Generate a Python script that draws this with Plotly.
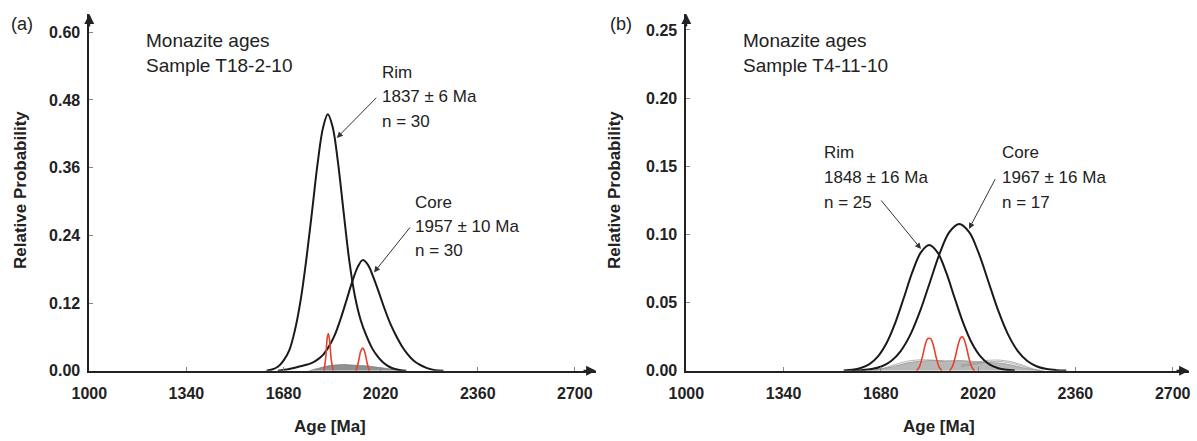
import plotly.graph_objects as go

W, H = 1197, 441

# ---------------- data ----------------
x_ticks = [1000, 1340, 1680, 2020, 2360, 2700]
ya_ticks = [0.00, 0.12, 0.24, 0.36, 0.48, 0.60]
yb_ticks = [0.00, 0.05, 0.10, 0.15, 0.20, 0.25]

# panel (a) T18-2-10
a_rim_x = [1620, 1640, 1660, 1680, 1700, 1720, 1740, 1760, 1780, 1800, 1818, 1835, 1852, 1870, 1890, 1910, 1930, 1950, 1970, 1990, 2010, 2030, 2050, 2070, 2090, 2110]
a_rim_y = [0.000, 0.002, 0.007, 0.018, 0.036, 0.072, 0.125, 0.198, 0.283, 0.370, 0.430, 0.4545, 0.432, 0.372, 0.283, 0.196, 0.132, 0.090, 0.062, 0.040, 0.025, 0.014, 0.007, 0.003, 0.001, 0.000]
a_core_x = [1660, 1700, 1740, 1780, 1800, 1820, 1840, 1860, 1880, 1900, 1920, 1940, 1957, 1975, 1995, 2015, 2035, 2055, 2075, 2095, 2115, 2135, 2155, 2180, 2210, 2240]
a_core_y = [0.000, 0.003, 0.008, 0.014, 0.020, 0.029, 0.044, 0.064, 0.092, 0.124, 0.157, 0.184, 0.196, 0.188, 0.165, 0.137, 0.108, 0.082, 0.061, 0.043, 0.029, 0.018, 0.011, 0.005, 0.001, 0.000]
a_red1_x = [1822, 1828, 1833, 1837, 1841, 1847, 1854]
a_red1_y = [0.000, 0.025, 0.058, 0.066, 0.055, 0.020, 0.000]
a_red2_x = [1934, 1942, 1950, 1957, 1964, 1972, 1980]
a_red2_y = [0.000, 0.015, 0.034, 0.040, 0.034, 0.015, 0.000]
a_gray_x = [1770, 1800, 1830, 1860, 1890, 1920, 1950, 1980, 2010, 2040, 2070, 2100]
a_gray_y = [0.000, 0.004, 0.008, 0.010, 0.011, 0.010, 0.009, 0.008, 0.006, 0.004, 0.002, 0.000]

# panel (b) T4-11-10
b_rim_x = [1550, 1580, 1610, 1640, 1670, 1700, 1730, 1760, 1790, 1820, 1849, 1878, 1908, 1938, 1968, 1998, 2028, 2058, 2088, 2118, 2148]
b_rim_y = [0.0002, 0.0007, 0.0020, 0.0048, 0.0105, 0.0203, 0.0349, 0.0533, 0.0723, 0.0868, 0.0922, 0.0868, 0.0723, 0.0533, 0.0349, 0.0203, 0.0105, 0.0048, 0.0020, 0.0007, 0.0002]
b_core_x = [1580, 1614, 1648, 1682, 1716, 1750, 1784, 1818, 1852, 1886, 1920, 1954, 1988, 2022, 2056, 2090, 2124, 2158, 2192, 2226, 2260, 2294, 2328]
b_core_y = [0.0001, 0.0004, 0.0012, 0.0031, 0.0071, 0.0146, 0.0268, 0.0442, 0.0653, 0.0862, 0.1018, 0.1076, 0.1018, 0.0862, 0.0653, 0.0442, 0.0268, 0.0146, 0.0071, 0.0031, 0.0012, 0.0004, 0.0001]
b_red1_x = [1805, 1815, 1825, 1835, 1842, 1849, 1856, 1863, 1873, 1883, 1893]
b_red1_y = [0.000, 0.003, 0.010, 0.019, 0.023, 0.0238, 0.023, 0.019, 0.010, 0.003, 0.000]
b_red2_x = [1920, 1930, 1940, 1950, 1957, 1963, 1970, 1977, 1987, 1997, 2007]
b_red2_y = [0.000, 0.003, 0.010, 0.019, 0.0235, 0.025, 0.0235, 0.019, 0.010, 0.003, 0.000]
b_gray_x = [1640, 1700, 1740, 1780, 1820, 1860, 1900, 1940, 1980, 2020, 2060, 2100, 2140, 2180, 2220, 2250]
b_gray_y = [0.000, 0.002, 0.004, 0.006, 0.007, 0.0075, 0.0072, 0.0074, 0.0072, 0.0065, 0.006, 0.0055, 0.004, 0.002, 0.0005, 0.000]
b_gl1_x = [1960, 2010, 2050, 2090, 2130, 2170, 2210, 2240]
b_gl1_y = [0.004, 0.0058, 0.0075, 0.0078, 0.0068, 0.0045, 0.0015, 0.000]
b_gl2_x = [1960, 2010, 2050, 2090, 2130, 2170, 2210, 2240]
b_gl2_y = [0.003, 0.0048, 0.0064, 0.0068, 0.0058, 0.0036, 0.0010, 0.000]
b_gl3_x = [1660, 1700, 1740, 1780, 1820, 1860, 1900]
b_gl3_y = [0.000, 0.0025, 0.0052, 0.0072, 0.0080, 0.0078, 0.0070]

# ---------------- helpers ----------------
def px(x):
    return x / W

def py(y):
    return 1 - y / H

BLACK = "#1a1a1a"
RED = "#e8412c"
FONT = "Liberation Sans, Arial, sans-serif"

fig = go.Figure()

def add_line(x, y, xa, ya, color, width, shape="spline", fill=None, fillcolor=None, smoothing=0.8):
    fig.add_trace(go.Scatter(x=x, y=y, xaxis=xa, yaxis=ya, mode="lines",
                             line=dict(color=color, width=width, shape=shape, smoothing=smoothing),
                             fill=fill, fillcolor=fillcolor, hoverinfo="skip", showlegend=False))

# panel a
add_line(a_gray_x, a_gray_y, "x", "y", "rgba(120,120,120,0.9)", 0.8, fill="tozeroy", fillcolor="rgba(125,125,125,0.85)")
add_line(a_rim_x, a_rim_y, "x", "y", BLACK, 2, smoothing=1)
add_line(a_core_x, a_core_y, "x", "y", BLACK, 2, smoothing=1)
add_line(a_red1_x, a_red1_y, "x", "y", RED, 1.6)
add_line(a_red2_x, a_red2_y, "x", "y", RED, 1.6)
# panel b
add_line(b_gray_x, b_gray_y, "x2", "y2", "rgba(140,140,140,0.9)", 0.8, fill="tozeroy", fillcolor="rgba(160,160,160,0.75)")
add_line(b_gl1_x, b_gl1_y, "x2", "y2", "rgba(150,150,150,0.9)", 0.8)
add_line(b_gl2_x, b_gl2_y, "x2", "y2", "rgba(150,150,150,0.9)", 0.8)
add_line(b_gl3_x, b_gl3_y, "x2", "y2", "rgba(150,150,150,0.9)", 0.8)
add_line(b_rim_x, b_rim_y, "x2", "y2", BLACK, 2, smoothing=1)
add_line(b_core_x, b_core_y, "x2", "y2", BLACK, 2, smoothing=1)
add_line(b_red1_x, b_red1_y, "x2", "y2", RED, 1.6)
add_line(b_red2_x, b_red2_y, "x2", "y2", RED, 1.6)

tickfont = dict(family=FONT, size=16, color="#222222", weight="bold")
yd = [py(370.7), py(14)]
common = dict(ticks="inside", ticklen=4, tickcolor="#888888", tickwidth=1, showline=True,
              linecolor="#222222", linewidth=1.8, showgrid=False, zeroline=False,
              tickfont=tickfont, fixedrange=True, automargin=False)
xt = dict(tickvals=x_ticks, ticktext=[str(v) for v in x_ticks], ticklabelstandoff=7)
yt = dict(ticklabelstandoff=4)
fig.update_layout(
    width=W, height=H, margin=dict(l=0, r=0, t=0, b=0, autoexpand=False),
    paper_bgcolor="white", plot_bgcolor="white",
    font=dict(family=FONT, color="#222222"),
    xaxis=dict(domain=[px(89.3), px(596)], range=[1000, 2774], anchor="y", **xt, **common),
    xaxis2=dict(domain=[px(686.3), px(1189)], range=[1000, 2757], anchor="y2", **xt, **common),
    yaxis=dict(domain=yd, range=[0, 0.6323], anchor="x", tickvals=ya_ticks, tickformat=".2f", **yt, **common),
    yaxis2=dict(domain=yd, range=[0, 0.2617], anchor="x2", tickvals=yb_ticks, tickformat=".2f", **yt, **common),
)

ann = []
def text(xp, yp, s, size, bold=False, xanchor="left", textangle=0):
    ann.append(dict(x=px(xp), y=py(yp), xref="paper", yref="paper", text=("<b>%s</b>" % s) if bold else s,
                    showarrow=False, xanchor=xanchor, yanchor="middle", textangle=textangle,
                    font=dict(family=FONT, size=size, color="#222222")))

def arrow(xd, yd_, xr, yr, axp, ayp, size=1.2, width=1, color="#333333"):
    ann.append(dict(x=xd, y=yd_, xref=xr, yref=yr, ax=axp, ay=ayp, axref="pixel", ayref="pixel",
                    text="", showarrow=True, arrowhead=2, arrowsize=size, arrowwidth=width, arrowcolor=color))

# panel labels and axis titles
text(9, 24, "(a)", 18)
text(608, 24, "(b)", 18)
text(21, 190, "Relative Probability", 17, bold=True, xanchor="center", textangle=-90)
text(615, 190, "Relative Probability", 17, bold=True, xanchor="center", textangle=-90)
text(330, 426, "Age [Ma]", 17, bold=True, xanchor="center")
text(939, 426, "Age [Ma]", 17, bold=True, xanchor="center")

# panel a text
text(144, 40.5, "Monazite ages", 19)
text(144, 66, "Sample T18-2-10", 19)
text(380, 72.5, "Rim", 17)
text(380, 97, "1837 ± 6 Ma", 17)
text(380, 121.5, "n = 30", 17)
text(413, 202.7, "Core", 17)
text(413, 226, "1957 ± 10 Ma", 17)
text(413, 250.5, "n = 30", 17)
# panel b text
text(741, 40.5, "Monazite ages", 19)
text(741, 66, "Sample T4-11-10", 19)
text(822, 152.7, "Rim", 17)
text(822, 177.5, "1848 ± 16 Ma", 17)
text(822, 202, "n = 25", 17)
text(1000, 152.7, "Core", 17)
text(1000, 177.5, "1967 ± 16 Ma", 17)
text(1000, 202, "n = 17", 17)

# callout arrows
arrow(1866.6, 0.4127, "x", "y", 41, -41.6)
arrow(1996.8, 0.1742, "x", "y", 37.2, -46.5)
arrow(1820.3, 0.0893, "x2", "y2", -41, -50)
arrow(1988, 0.104, "x2", "y2", 27, -51.3)

# axis end arrowheads
arrow(2774, 0, "x", "y", -14, 0, 1.1, 1.8, "#222222")
arrow(1000, 0.6323, "x", "y", 0, 14, 1.1, 1.8, "#222222")
arrow(2757, 0, "x2", "y2", -14, 0, 1.1, 1.8, "#222222")
arrow(1000, 0.2617, "x2", "y2", 0, 14, 1.1, 1.8, "#222222")

fig.update_layout(annotations=ann)
fig.write_html("out.html")
